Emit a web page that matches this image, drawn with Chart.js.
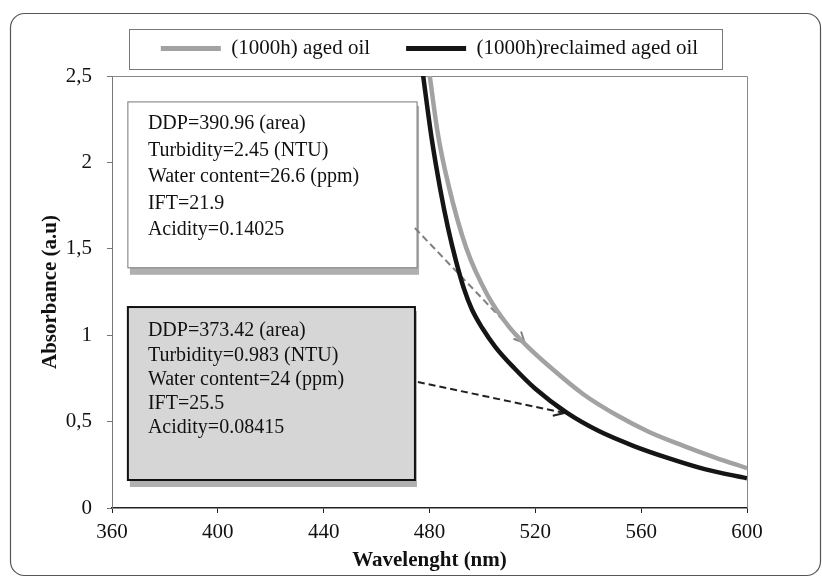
<!DOCTYPE html>
<html>
<head>
<meta charset="utf-8">
<script src="https://cdn.jsdelivr.net/npm/chart.js@4.4.0/dist/chart.umd.min.js"></script>
<style>
  body { margin: 0; background: #fff; }
</style>
</head>
<body>
<canvas id="grafico" width="822" height="578"></canvas>
<script>
// valores: longitud de onda (nm) y absorbancia (a.u)
const agedWl = [478, 480.2, 483, 487, 494, 502, 510, 516, 526, 538, 551, 563, 576, 588, 600];
const agedAbs = [2.75, 2.49, 2.18, 1.88, 1.50, 1.23, 1.05, 0.95, 0.81, 0.66, 0.535, 0.44, 0.36, 0.292, 0.23];
const reclaimedWl = [475.5, 477.7, 480.8, 484, 487, 490, 493, 496, 500, 505, 512, 520, 532, 544, 557, 570, 584, 600];
const reclaimedAbs = [2.75, 2.49, 2.14, 1.85, 1.62, 1.43, 1.27, 1.15, 1.04, 0.93, 0.81, 0.69, 0.55, 0.445, 0.36, 0.29, 0.225, 0.172];

const xTicks = [360, 400, 440, 480, 520, 560, 600];
const yTicks = [0, 0.5, 1, 1.5, 2, 2.5];
const seriesNames = ['(1000h) aged oil', '(1000h)reclaimed aged oil'];

const agedNotes = ['DDP=390.96 (area)', 'Turbidity=2.45 (NTU)', 'Water content=26.6 (ppm)', 'IFT=21.9', 'Acidity=0.14025'];
const reclaimedNotes = ['DDP=373.42 (area)', 'Turbidity=0.983 (NTU)', 'Water content=24 (ppm)', 'IFT=25.5', 'Acidity=0.08415'];

const serif = '"Liberation Serif", "Times New Roman", serif';

// cajas de texto y flechas, en coordenadas de los ejes
const notas = [
  { lines: agedNotes, box: [366, 475.3, 2.35, 1.39], fill: '#ffffff', border: '#777', bw: 1,
    first: 22, gap: 26.5, arrow: [474.5, 1.62, 516, 0.955], arrowColor: '#808080' },
  { lines: reclaimedNotes, box: [366, 474.5, 1.163, 0.162], fill: '#d6d6d6', border: '#111', bw: 2,
    first: 24, gap: 24.3, arrow: [475.6, 0.729, 531, 0.55], arrowColor: '#222' }
];

const toPoints = (xs, ys) => xs.map((x, i) => ({ x, y: ys[i] }));

const decor = {
  id: 'decor',
  beforeInit(chart) {
    // un poco mas de aire entre la leyenda y el area del grafico
    const fit = chart.legend.fit;
    chart.legend.fit = function () {
      fit.call(this);
      this.height += 7;
    };
  },
  beforeDatasetsDraw(chart) {
    const { ctx, chartArea: a, scales: { x, y } } = chart;
    ctx.save();
    // borde del area
    ctx.strokeStyle = '#888';
    ctx.lineWidth = 1;
    ctx.beginPath();
    ctx.moveTo(a.left, a.top + 0.5);
    ctx.lineTo(a.right + 0.5, a.top + 0.5);
    ctx.lineTo(a.right + 0.5, a.bottom);
    ctx.stroke();

    notas.forEach(n => {
      const l = x.getPixelForValue(n.box[0]), r = x.getPixelForValue(n.box[1]);
      const t = y.getPixelForValue(n.box[2]), b = y.getPixelForValue(n.box[3]);
      ctx.fillStyle = '#b0b0b0';
      ctx.fillRect(l + 2, t + 4, r - l, b - t + 3);
      ctx.fillStyle = n.fill;
      ctx.fillRect(l, t, r - l, b - t);
      ctx.strokeStyle = n.border;
      ctx.lineWidth = n.bw;
      ctx.strokeRect(l, t, r - l, b - t);

      ctx.fillStyle = '#111';
      ctx.font = '20px ' + serif;
      ctx.textBaseline = 'middle';
      ctx.textAlign = 'left';
      n.lines.forEach((txt, i) => ctx.fillText(txt, l + 20, t + n.first + i * n.gap));

      // flecha discontinua
      const x0 = x.getPixelForValue(n.arrow[0]), y0 = y.getPixelForValue(n.arrow[1]);
      const x1 = x.getPixelForValue(n.arrow[2]), y1 = y.getPixelForValue(n.arrow[3]);
      ctx.strokeStyle = n.arrowColor;
      ctx.lineWidth = 2;
      ctx.setLineDash([7, 4]);
      ctx.beginPath();
      ctx.moveTo(x0, y0);
      ctx.lineTo(x1, y1);
      ctx.stroke();
      ctx.setLineDash([]);
      const ang = Math.atan2(y1 - y0, x1 - x0);
      ctx.beginPath();
      ctx.moveTo(x1 - 12 * Math.cos(ang - 0.45), y1 - 12 * Math.sin(ang - 0.45));
      ctx.lineTo(x1, y1);
      ctx.lineTo(x1 - 12 * Math.cos(ang + 0.45), y1 - 12 * Math.sin(ang + 0.45));
      ctx.stroke();
    });
    ctx.restore();
  },
  afterDraw(chart) {
    const { ctx } = chart;
    const hb = chart.legend.legendHitBoxes;
    ctx.save();
    // caja de la leyenda
    if (hb && hb.length) {
      const last = hb[hb.length - 1];
      const cy = hb[0].top + hb[0].height / 2;
      ctx.strokeStyle = '#777';
      ctx.lineWidth = 1;
      ctx.strokeRect(Math.round(hb[0].left - 32) + 0.5, Math.round(cy - 20) + 0.5,
        Math.round(last.left + last.width + 24 - hb[0].left + 32), 40);
    }
    // marco exterior redondeado
    ctx.strokeStyle = '#555';
    ctx.lineWidth = 1.2;
    ctx.beginPath();
    ctx.roundRect(10.5, 13.5, 810, 562, 14);
    ctx.stroke();
    ctx.restore();
  }
};

new Chart(document.querySelector('#grafico'), {
  type: 'line',
  data: {
    datasets: [
      {
        label: seriesNames[0],
        data: toPoints(agedWl, agedAbs),
        borderColor: '#a2a2a2',
        backgroundColor: '#a2a2a2',
        borderWidth: 4.5,
        pointRadius: 0,
        cubicInterpolationMode: 'monotone',
        clip: 0
      },
      {
        label: seriesNames[1],
        data: toPoints(reclaimedWl, reclaimedAbs),
        borderColor: '#151515',
        backgroundColor: '#151515',
        borderWidth: 4.5,
        pointRadius: 0,
        cubicInterpolationMode: 'monotone',
        clip: 0
      }
    ]
  },
  options: {
    responsive: false,
    animation: false,
    layout: { padding: { left: 0, right: 75, top: 2, bottom: 0 } },
    plugins: {
      tooltip: { enabled: false },
      legend: {
        position: 'top',
        fullSize: false,
        labels: {
          color: '#111',
          font: { family: serif, size: 21 },
          boxWidth: 60,
          boxHeight: 5,
          padding: 36,
          generateLabels: (chart) =>
            Chart.defaults.plugins.legend.labels.generateLabels(chart).map(l => ({ ...l, lineWidth: 0 }))
        }
      }
    },
    scales: {
      x: {
        type: 'linear',
        min: xTicks[0],
        max: xTicks[xTicks.length - 1],
        afterBuildTicks: (s) => { s.ticks = xTicks.map(v => ({ value: v })); },
        afterFit: (s) => { s.height = 70; },
        grid: { drawOnChartArea: false, drawTicks: true, tickLength: 5, color: '#222' },
        border: { display: true, color: '#222', width: 1.5 },
        ticks: { color: '#111', padding: 7, font: { family: serif, size: 21 }, maxRotation: 0 },
        title: {
          display: true,
          text: 'Wavelenght (nm)',
          color: '#111',
          font: { family: serif, size: 21, weight: 'bold' },
          padding: { top: 0, bottom: 5 }
        }
      },
      y: {
        min: yTicks[0],
        max: yTicks[yTicks.length - 1],
        afterBuildTicks: (s) => { s.ticks = yTicks.map(v => ({ value: v })); },
        afterFit: (s) => { s.width = 112; },
        grid: { drawOnChartArea: false, drawTicks: true, tickLength: 5, color: '#777' },
        border: { display: true, color: '#777', width: 1 },
        ticks: {
          color: '#111',
          padding: 15,
          font: { family: serif, size: 21 },
          callback: (v) => String(v).replace('.', ',')
        },
        title: {
          display: true,
          text: 'Absorbance (a.u)',
          color: '#111',
          font: { family: serif, size: 21, weight: 'bold' },
          padding: { top: 38, bottom: 0 }
        }
      }
    }
  },
  plugins: [decor]
});
</script>
</body>
</html>
